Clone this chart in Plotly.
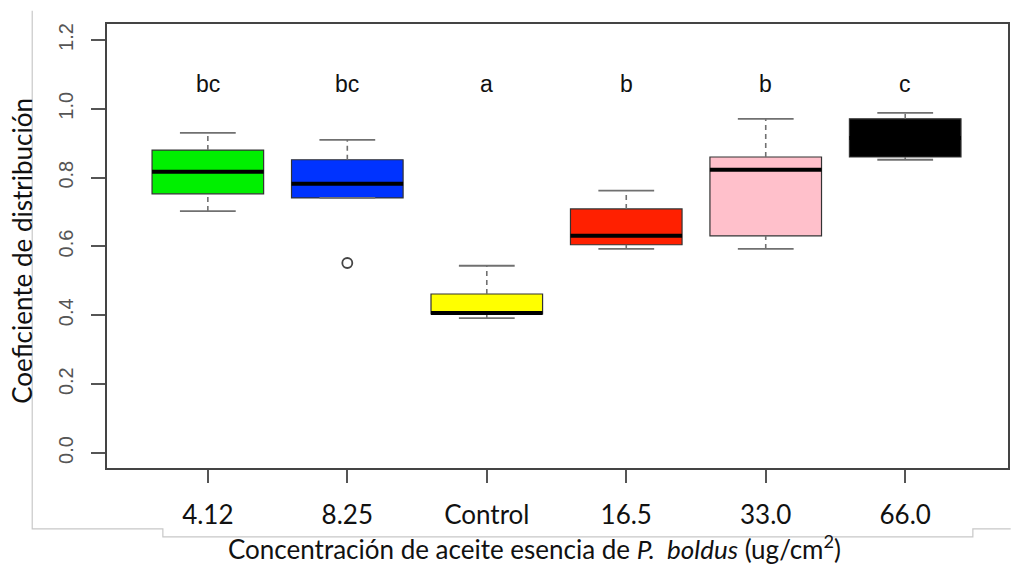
import plotly.graph_objects as go

categories = ["4.12", "8.25", "Control", "16.5", "33.0", "66.0"]
lower_whisker = [0.703, 0.741, 0.392, 0.593, 0.593, 0.852]
q1 = [0.753, 0.741, 0.404, 0.605, 0.631, 0.860]
median = [0.817, 0.782, 0.407, 0.631, 0.823, 0.915]
q3 = [0.880, 0.852, 0.462, 0.709, 0.860, 0.971]
upper_whisker = [0.930, 0.910, 0.544, 0.762, 0.971, 0.988]
outlier_group = [2]
outlier_value = [0.552]
letters = ["bc", "bc", "a", "b", "b", "c"]
letter_y = 1.072
fill_colors = ["#00f000", "#0033ff", "#ffff00", "#ff2000", "#ffc0cb", "#000000"]
y_ticks = [0.0, 0.2, 0.4, 0.6, 0.8, 1.0, 1.2]

pos = list(range(1, len(categories) + 1))
box_w = 0.8
staple_w = 0.4
whisker_col = "#707070"

fig = go.Figure()

# whiskers (dashed) and staples
for i, p in enumerate(pos):
    for a, b in [(q3[i], upper_whisker[i]), (lower_whisker[i], q1[i])]:
        if b > a:
            fig.add_trace(go.Scatter(x=[p, p], y=[a, b], mode="lines",
                                     line=dict(color=whisker_col, width=1.6, dash="5px,4px"),
                                     hoverinfo="skip", showlegend=False))
    for v in (upper_whisker[i], lower_whisker[i]):
        fig.add_trace(go.Scatter(x=[p - staple_w / 2, p + staple_w / 2], y=[v, v], mode="lines",
                                 line=dict(color=whisker_col, width=1.8),
                                 hoverinfo="skip", showlegend=False))

# boxes
for i, p in enumerate(pos):
    fig.add_trace(go.Box(x=[p], q1=[q1[i]], median=[median[i]], q3=[q3[i]],
                         lowerfence=[q1[i]], upperfence=[q3[i]],
                         width=box_w, fillcolor=fill_colors[i],
                         line=dict(color="#333333", width=1.2),
                         boxpoints=False, showlegend=False, hoverinfo="skip"))

# medians (thick)
for i, p in enumerate(pos):
    fig.add_trace(go.Scatter(x=[p - box_w / 2, p + box_w / 2], y=[median[i], median[i]],
                             mode="lines", line=dict(color="#000000", width=4),
                             hoverinfo="skip", showlegend=False))

# outlier
fig.add_trace(go.Scatter(x=[pos[g - 1] for g in outlier_group], y=outlier_value, mode="markers",
                         marker=dict(symbol="circle-open", size=10, color="#444444",
                                     line=dict(width=1.8, color="#444444")),
                         hoverinfo="skip", showlegend=False))

# letters
for i, p in enumerate(pos):
    fig.add_annotation(x=p, y=letter_y, text=letters[i], showarrow=False,
                       font=dict(family="Liberation Sans, Arial", size=23, color="#111111"))

# axis titles
fig.add_annotation(xref="paper", yref="paper", x=-0.094, y=0.49, textangle=-90,
                   xanchor="center", yanchor="middle",
                   text="Coeficiente de distribución", showarrow=False,
                   font=dict(family="Lato", size=26, color="#111111"))
fig.add_annotation(xref="paper", yref="paper", x=0.474, y=-0.222,
                   xanchor="center", yanchor="bottom",
                   text="Concentración de aceite esencia de <i>P.  boldus</i> (ug/cm<sup>2</sup>)",
                   showarrow=False, font=dict(family="Lato", size=26, color="#111111"))

# light grey outline decoration from the original composite
fig.add_shape(type="path", xref="paper", yref="paper",
              path="M -0.083,1.03 L -0.083,-0.137 L 0.062,-0.137 L 0.062,-0.155 L 0.961,-0.155 L 0.961,-0.137 L 1.003,-0.137",
              line=dict(color="#c8c8c8", width=1.2))

fig.update_layout(
    width=1012, height=570,
    margin=dict(l=107, r=2, t=24, b=102),
    plot_bgcolor="white", paper_bgcolor="white",
    showlegend=False,
    xaxis=dict(range=[0.277, 6.737], tickmode="array", tickvals=pos, ticktext=categories,
               ticks="outside", ticklen=13, tickwidth=1.6, tickcolor="#555555",
               showline=True, linecolor="#444444", linewidth=1.6, mirror=True,
               showgrid=False, zeroline=False, ticklabelstandoff=10,
               tickfont=dict(family="Lato", size=26, color="#111111")),
    yaxis=dict(range=[-0.0436, 1.2464], tickmode="array", tickvals=y_ticks,
               ticktext=[f"{v:.1f}" for v in y_ticks], tickangle=-90,
               ticks="outside", ticklen=14, tickwidth=1.6, tickcolor="#555555",
               showline=True, linecolor="#444444", linewidth=1.6, mirror=True,
               showgrid=False, zeroline=False, ticklabelstandoff=10,
               tickfont=dict(family="Liberation Sans, Arial", size=20, color="#555555")),
)

fig.write_html("out.html")
